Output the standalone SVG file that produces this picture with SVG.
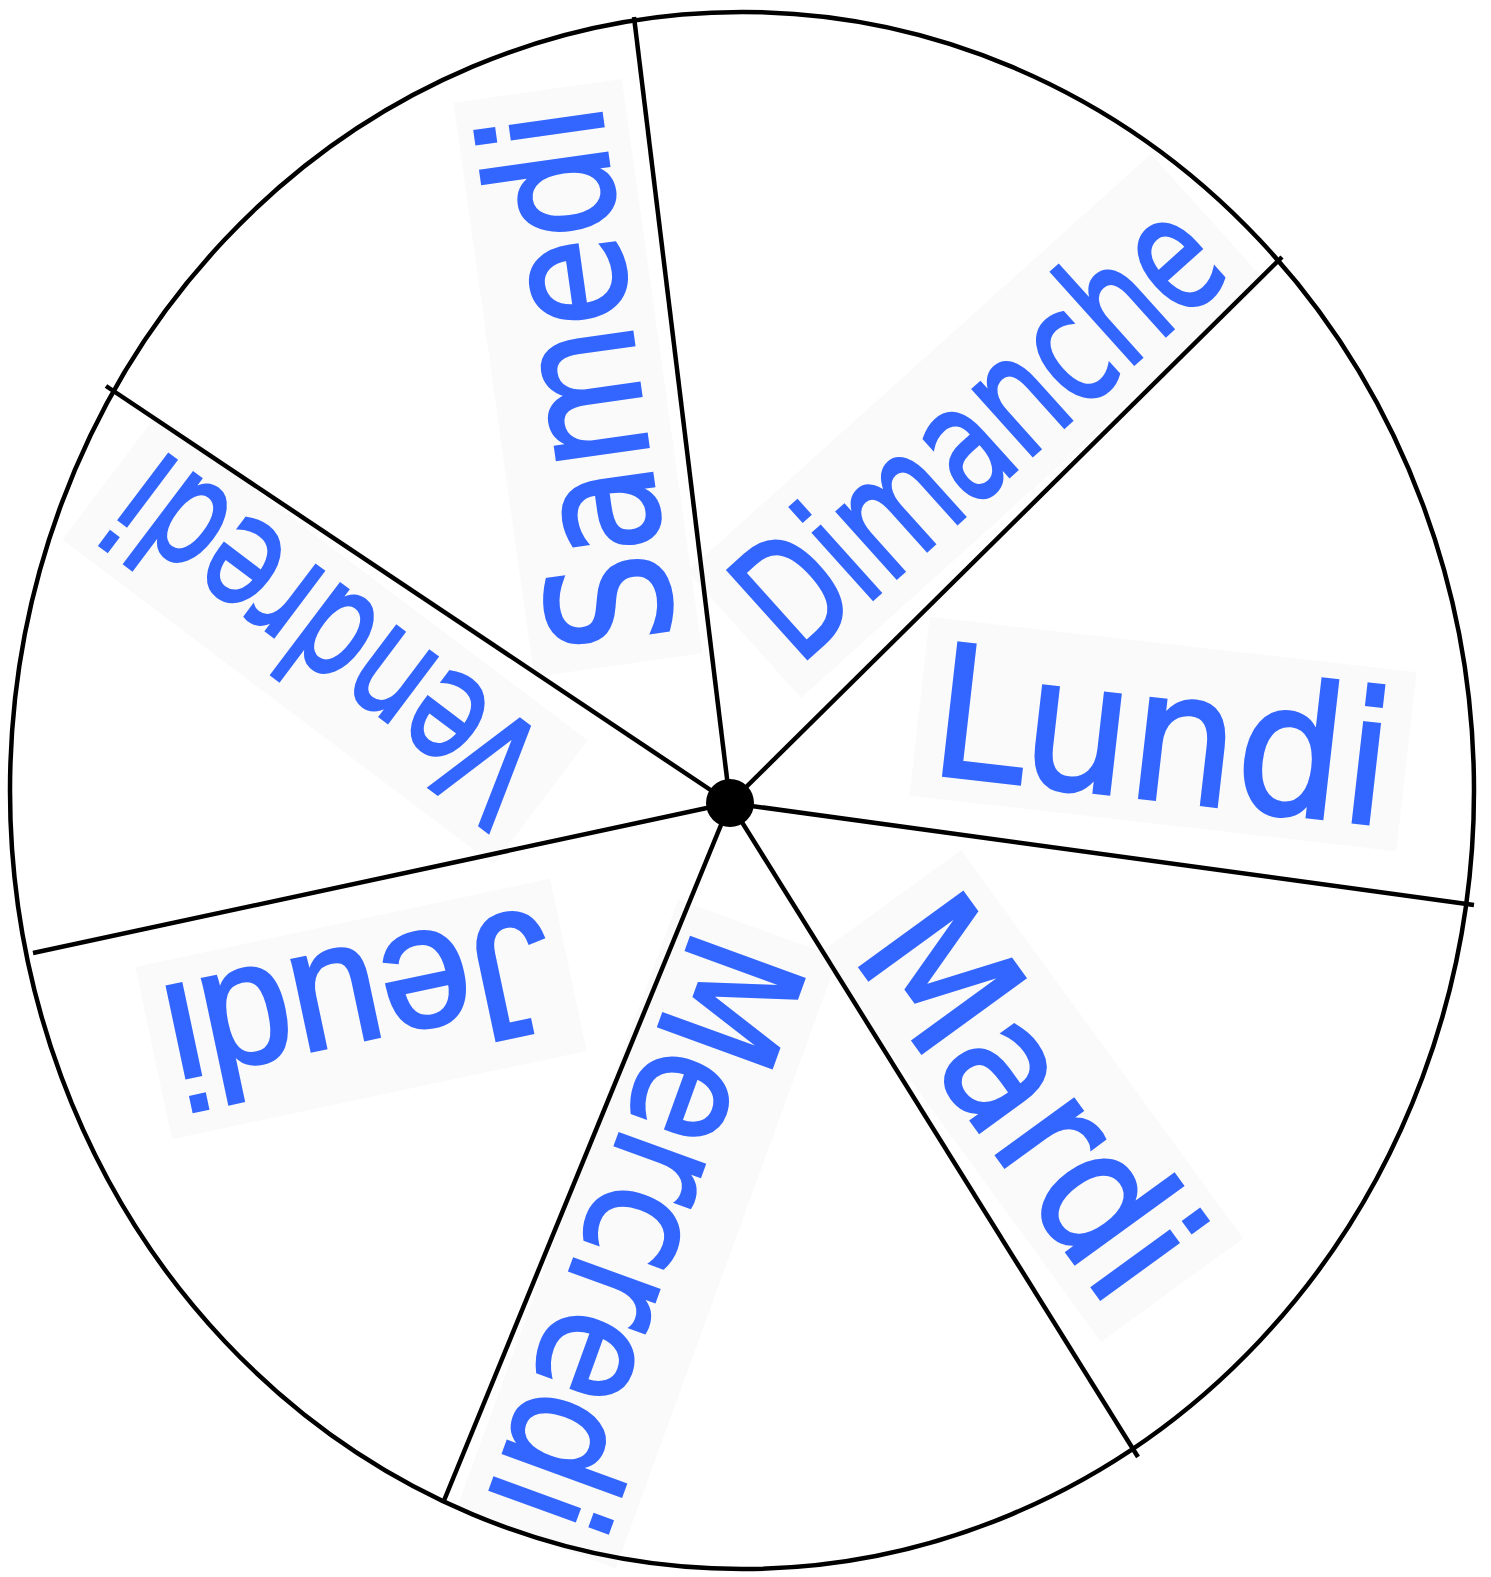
<svg xmlns="http://www.w3.org/2000/svg" width="1491" height="1577" viewBox="0 0 1491 1577">
<style>
.bg{fill:#fafafa}
.lbl{fill:#3366ff;stroke:#3366ff;stroke-width:3;font-family:"DejaVu Sans","Liberation Sans",sans-serif;text-anchor:middle}
.ln{stroke:#000;stroke-width:4.5;fill:none}
</style>
<rect width="1491" height="1577" fill="#fff"/>
<g id="labels">
<g id="lundi" transform="translate(1163,734) rotate(6.5)"><rect class="bg" x="-245" y="-90" width="490" height="180"/><text class="lbl" x="0" y="66" font-size="183" textLength="460" lengthAdjust="spacingAndGlyphs">Lundi</text></g>
<g id="dimanche" transform="translate(976,426) rotate(-42)"><rect class="bg" x="-312" y="-85" width="624" height="170"/><text class="lbl" x="0" y="60" font-size="163" textLength="585" lengthAdjust="spacingAndGlyphs">Dimanche</text></g>
<g id="samedi" transform="translate(578,378) rotate(-98)"><rect class="bg" x="-290" y="-85" width="580" height="170"/><text class="lbl" x="0" y="60" font-size="168" textLength="545" lengthAdjust="spacingAndGlyphs">Samedi</text></g>
<g id="mardi" transform="translate(1031,1096) rotate(54)"><rect class="bg" x="-240" y="-88" width="480" height="176"/><text class="lbl" x="0" y="63" font-size="175" textLength="440" lengthAdjust="spacingAndGlyphs">Mardi</text></g>
<g id="mercredi" transform="translate(647,1234) rotate(110)"><rect class="bg" x="-325" y="-85" width="650" height="170"/><text class="lbl" x="0" y="60" font-size="165" textLength="615" lengthAdjust="spacingAndGlyphs">Mercredi</text></g>
<g id="jeudi" transform="translate(361,1009) rotate(168)"><rect class="bg" x="-212" y="-88" width="424" height="176"/><text class="lbl" x="0" y="62" font-size="176" textLength="392" lengthAdjust="spacingAndGlyphs" style="font-family:'Liberation Sans','DejaVu Sans',sans-serif">Jeudi</text></g>
<g id="vendredi" transform="translate(325,640) rotate(-143)"><rect class="bg" x="-270" y="-78" width="540" height="156"/><text class="lbl" x="0" y="54" font-size="150" textLength="495" lengthAdjust="spacingAndGlyphs">Vendredi</text></g>
</g>
<g id="wheel">
<ellipse class="ln" cx="742" cy="790.5" rx="732" ry="778.5"/>
</g>
<g id="connectors" class="ln">
<line x1="730" y1="803" x2="634" y2="17"/>
<line x1="730" y1="803" x2="1282" y2="257"/>
<line x1="730" y1="803" x2="1474" y2="905"/>
<line x1="730" y1="803" x2="1138" y2="1457"/>
<line x1="730" y1="803" x2="443" y2="1503"/>
<line x1="730" y1="803" x2="33" y2="953"/>
<line x1="730" y1="803" x2="106" y2="386"/>
</g>
<g id="hub"><circle cx="730" cy="803" r="24" fill="#000"/></g>
</svg>
